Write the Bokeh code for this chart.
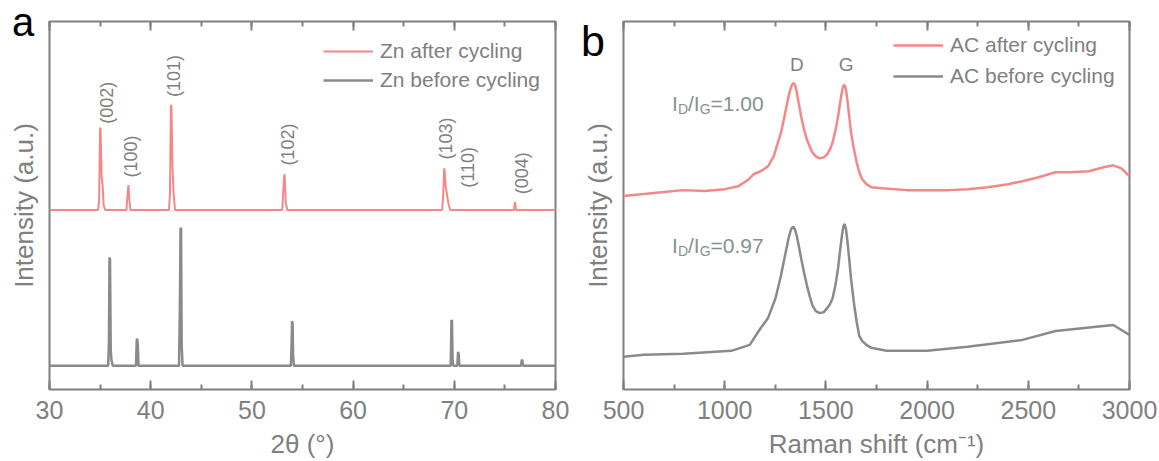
import math
from bokeh.plotting import figure
from bokeh.models import (Legend, LegendItem, Label, LinearAxis, SingleIntervalTicker,
                          FixedTicker, ColumnDataSource)
from bokeh.layouts import row
from bokeh.core.properties import value
from bokeh.embed import file_html
from bokeh.resources import INLINE

# ---------------- data ----------------
# (a) XRD patterns, intensity in arbitrary units
xrd_after_2theta = [30, 34.8, 34.9, 35.0, 35.05, 35.15, 35.25, 35.35, 35.5,
                    37.6, 37.7, 37.8, 37.9, 38.0,
                    41.8, 41.9, 42.0, 42.05, 42.15, 42.25, 42.4,
                    53.0, 53.1, 53.2, 53.25, 53.35, 53.5,
                    68.8, 68.9, 69.0, 69.05, 69.15, 69.3, 69.45, 69.6,
                    75.9, 76.0, 76.1, 80]
xrd_after_int = [181, 181, 190, 264, 262, 215, 205, 186, 181,
                 181, 195, 206, 190, 181,
                 181, 196, 287, 285, 225, 200, 181,
                 181, 200, 217, 214, 188, 181,
                 181, 195, 223, 220, 205, 195, 186, 181,
                 181, 189, 181, 181]
xrd_before_2theta = [30, 35.8, 35.87, 35.93, 35.98, 36.05, 36.12, 36.25,
                     38.55, 38.62, 38.67, 38.72, 38.8,
                     42.8, 42.88, 42.95, 43.0, 43.06, 43.15,
                     53.85, 53.92, 53.97, 54.02, 54.07, 54.15,
                     69.65, 69.72, 69.77, 69.83, 69.9,
                     70.3, 70.37, 70.43, 70.5,
                     76.6, 76.67, 76.73, 76.8, 80]
xrd_before_int = [24, 24, 45, 133, 131, 40, 30, 24,
                  24, 50, 51, 45, 24,
                  24, 80, 163, 162, 45, 24,
                  24, 45, 69, 66, 35, 24,
                  24, 70, 69, 30, 24,
                  24, 38, 36, 24,
                  24, 30, 29, 24, 24]
peak_labels = ["(002)", "(100)", "(101)", "(102)", "(103)", "(110)", "(004)"]
peak_label_2theta = [35.67, 38.05, 42.27, 53.55, 69.19, 71.38, 76.70]
peak_label_int = [289, 235, 316, 247, 253, 224, 218]
xrd_series = ["Zn after cycling", "Zn before cycling"]

# (b) Raman spectra
raman_after_shift = [500, 600, 700, 795, 900, 1000, 1068, 1120, 1142, 1178, 1214,
                     1242, 1278, 1292, 1305, 1315, 1324, 1332, 1340, 1348, 1356,
                     1366, 1378, 1392, 1406, 1420, 1433, 1450, 1469, 1490, 1506,
                     1520, 1533, 1547, 1560, 1570, 1579, 1586, 1592, 1599, 1606,
                     1615, 1624, 1638, 1652, 1665, 1679, 1700, 1724, 1779, 1900,
                     2000, 2107, 2200, 2300, 2400, 2471, 2550, 2635, 2700, 2800,
                     2872, 2920, 2960, 3000]
raman_after_int = [195, 197, 199, 201, 200, 202, 205, 212, 217, 220, 225,
                   235, 259, 272, 285, 295, 302, 307, 309, 307, 300,
                   288, 275, 262, 252, 245, 239, 235, 233, 234, 237,
                   242, 249, 261, 275, 289, 300, 306, 307, 303, 292,
                   276, 259, 243, 229, 219, 212, 207, 204, 203, 201,
                   201, 201, 202, 204, 207, 210, 214, 219, 219, 220,
                   224, 226, 223, 215]
raman_before_shift = [500, 600, 795, 1033, 1124, 1178, 1214, 1251, 1278, 1292,
                      1305, 1315, 1324, 1332, 1340, 1348, 1356, 1366, 1378, 1392,
                      1406, 1420, 1433, 1450, 1469, 1490, 1506, 1520, 1533, 1547,
                      1560, 1570, 1579, 1586, 1592, 1599, 1606, 1615, 1624, 1638,
                      1652, 1665, 1679, 1700, 1724, 1800, 2000, 2200, 2471, 2635,
                      2872, 2920, 3000]
raman_before_int = [33, 35, 36, 39, 45, 62, 72, 92, 115, 129,
                    142, 152, 159, 163, 164, 161, 155, 145, 132, 118,
                    105, 94, 85, 79, 77, 78, 82, 86, 92, 105,
                    122, 140, 155, 164, 167, 162, 150, 132, 112, 88,
                    68, 54, 49, 45, 42, 39, 39, 43, 50, 59,
                    64, 65, 55]
raman_series = ["AC after cycling", "AC before cycling"]
band_names = ["D", "G"]
band_label_shift = [1356, 1600]
band_label_int = [328, 328]
ratio_values = ["1.00", "0.97"]
ratio_label_shift = [740, 740]
ratio_label_int = [288, 145]

# panel letters (position in each panel's data coordinates)
panel_letters = ["a", "b"]
letter_x = [26.3, 289.5]
letter_y = [370, 351]

# ---------------- style ----------------
PINK = "#F48888"
GREY = "#8A8A8A"
TXT = "#808080"
RATIO_TXT = "#86918C"
FONT = "Liberation Sans"


def style_ticks(ax):
    ax.axis_line_color = None
    ax.major_tick_in = 9
    ax.major_tick_out = 0
    ax.minor_tick_in = 5
    ax.minor_tick_out = 0
    ax.major_tick_line_color = TXT
    ax.major_tick_line_width = 2
    ax.minor_tick_line_color = TXT
    ax.minor_tick_line_width = 2


def base_fig(width, xr, left, right, xlabel, interval):
    p = figure(width=width, height=461, x_range=xr, y_range=(0, 371),
               output_backend="svg", toolbar_location=None,
               min_border_left=left, min_border_right=right,
               min_border_top=21, min_border_bottom=69,
               x_axis_label=xlabel, y_axis_label="Intensity (a.u.)")
    p.xgrid.visible = False
    p.ygrid.visible = False
    p.outline_line_color = TXT
    p.outline_line_width = 2
    p.outline_line_alpha = 1
    p.background_fill_color = "white"
    p.border_fill_color = "white"

    xa = p.xaxis[0]
    xa.ticker = SingleIntervalTicker(interval=interval, num_minor_ticks=2)
    style_ticks(xa)
    xa.major_label_text_font = FONT
    xa.major_label_text_font_size = "25px"
    xa.major_label_text_color = TXT
    xa.major_label_standoff = 11
    xa.axis_label_text_font = FONT
    xa.axis_label_text_font_size = "26px"
    xa.axis_label_text_font_style = "normal"
    xa.axis_label_text_color = TXT
    xa.axis_label_standoff = 7

    top = LinearAxis(ticker=SingleIntervalTicker(interval=interval, num_minor_ticks=2))
    style_ticks(top)
    top.major_label_text_font_size = "1px"
    top.major_label_text_color = None
    top.major_label_standoff = 0
    p.add_layout(top, "above")

    ya = p.yaxis[0]
    ya.ticker = FixedTicker(ticks=[])
    ya.axis_line_color = None
    ya.major_tick_line_color = None
    ya.minor_tick_line_color = None
    ya.major_label_standoff = 0
    ya.axis_label_text_font = FONT
    ya.axis_label_text_font_size = "26px"
    ya.axis_label_text_font_style = "normal"
    ya.axis_label_text_color = TXT
    ya.axis_label_standoff = 11
    return p


def make_legend(p, names, renderers, loc, spacing):
    leg = Legend(items=[LegendItem(label=n, renderers=[r]) for n, r in zip(names, renderers)],
                 location=loc, glyph_width=50, glyph_height=20, label_standoff=7,
                 spacing=spacing, padding=0, margin=0, border_line_alpha=0,
                 background_fill_alpha=0, label_text_font=FONT,
                 label_text_font_size="21px", label_text_color=TXT, label_height=20)
    p.add_layout(leg, "center")


def letter(p, i, size):
    p.text(x=[letter_x[i]], y=[letter_y[i]], text=[panel_letters[i]], level="overlay",
           text_font=value(FONT), text_font_size=size, text_color="black",
           text_align="left", text_baseline="alphabetic")


# ---------------- panel a ----------------
p1 = base_fig(575, (30, 80), 49, 20, "2θ (°)", 10)
r_a1 = p1.line(xrd_after_2theta, xrd_after_int, line_color=PINK, line_width=2)
r_a2 = p1.line(xrd_before_2theta, xrd_before_int, line_color=GREY, line_width=2.5)
src_peaks = ColumnDataSource(dict(x=peak_label_2theta, y=peak_label_int, t=peak_labels))
p1.text(x="x", y="y", text="t", source=src_peaks, angle=math.pi / 2,
        text_align="center", text_baseline="middle", text_color=TXT,
        text_font=value(FONT), text_font_size="18px")
make_legend(p1, xrd_series, [r_a1, r_a2], (274, 297), 5)
letter(p1, 0, "40px")

# ---------------- panel b ----------------
p2 = base_fig(584, (500, 3000), 48, 30, "Raman shift (cm⁻¹)", 500)
r_b1 = p2.line(raman_after_shift, raman_after_int, line_color=PINK, line_width=2.5)
r_b2 = p2.line(raman_before_shift, raman_before_int, line_color=GREY, line_width=2.5)
for name, xs, ys in zip(band_names, band_label_shift, band_label_int):
    p2.add_layout(Label(x=xs, y=ys, text=name, text_font=FONT, text_font_size="19px",
                        text_color=TXT, text_align="center", text_baseline="alphabetic"))
# I_D/I_G = value, composed from pieces (main 21px, subscripts 14px)
pieces = [("I", 0.0, 0, "21px"), ("D", 5.8, -5, "14px"), ("/I", 15.9, 0, "21px"),
          ("G", 27.6, -5, "14px")]
for val, xs, ys in zip(ratio_values, ratio_label_shift, ratio_label_int):
    for txt, dx, dy, fs in pieces + [("=" + val, 38.5, 0, "21px")]:
        p2.add_layout(Label(x=xs, y=ys, x_offset=dx, y_offset=dy, text=txt,
                            text_font=FONT, text_font_size=fs, text_color=RATIO_TXT,
                            text_align="left", text_baseline="alphabetic"))
make_legend(p2, raman_series, [r_b1, r_b2], (270, 301), 7)
letter(p2, 1, "43px")

layout = row(p1, p2)
open("out.html", "w").write(file_html(layout, INLINE))
